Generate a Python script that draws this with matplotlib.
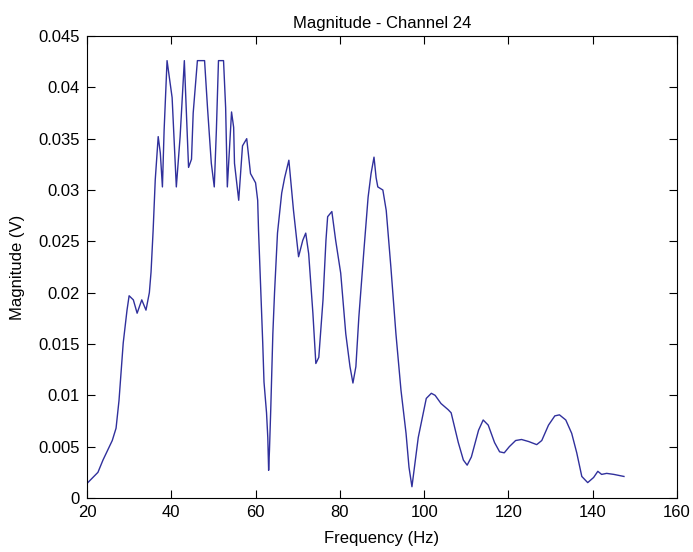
import matplotlib
matplotlib.use("Agg")
import matplotlib.pyplot as plt
import numpy as np

# frequency (Hz) and magnitude (V)
freq = [20.0, 20.2, 22.6, 23.8, 26.0, 26.9, 27.6, 28.6, 29.5, 30.0, 31.0, 31.9,
        33.0, 34.0, 34.8, 35.2, 35.7, 36.2, 36.9, 37.4, 37.9, 38.3, 39.0, 39.3,
        40.2, 41.2, 42.1, 43.1, 43.6, 44.1, 44.8, 45.2, 46.2, 47.9, 48.6, 49.5,
        50.2, 50.7, 51.2, 52.4, 52.9, 53.3, 54.3, 54.8, 55.0, 56.0, 56.9, 57.9,
        58.8, 60.0, 60.5, 60.7, 61.7, 62.0, 62.6, 62.9, 63.1, 63.3, 63.6, 64.1,
        64.5, 65.2, 66.2, 66.9, 67.9, 69.0, 70.2, 71.2, 71.9, 72.6, 73.6, 74.3,
        75.0, 76.0, 76.7, 77.1, 78.1, 79.0, 80.2, 81.4, 82.4, 83.1, 83.8, 84.5,
        85.7, 86.7, 87.4, 88.1, 88.6, 89.0, 90.2, 91.0, 92.1, 93.3, 94.5, 95.7,
        96.4, 97.1, 97.6, 98.6, 99.8, 100.5, 101.7, 102.6, 104.0, 105.7, 106.4,
        108.1, 109.3, 110.2, 111.2, 112.9, 114.0, 115.2, 116.7, 117.9, 119.0,
        120.2, 121.7, 123.1, 124.8, 126.7, 127.9, 129.5, 131.0, 132.1, 133.6,
        135.0, 136.2, 137.4, 138.8, 140.2, 141.2, 142.1, 143.3, 145.0, 147.4]
mag = [0.0014, 0.0015, 0.0025, 0.0037, 0.0056, 0.0068, 0.0095, 0.0151, 0.0183,
       0.0197, 0.0193, 0.0180, 0.0193, 0.0183, 0.0200, 0.0220, 0.0261, 0.0310,
       0.0352, 0.0336, 0.0303, 0.0358, 0.0426, 0.0417, 0.0390, 0.0303, 0.0352,
       0.0426, 0.0375, 0.0322, 0.0330, 0.0375, 0.0426, 0.0426, 0.0380, 0.0326,
       0.0303, 0.0358, 0.0426, 0.0426, 0.0380, 0.0303, 0.0376, 0.0361, 0.0326,
       0.0290, 0.0343, 0.0350, 0.0316, 0.0307, 0.0290, 0.0261, 0.0151, 0.0113,
       0.0083, 0.0059, 0.0027, 0.0047, 0.0086, 0.0160, 0.0200, 0.0258, 0.0297,
       0.0312, 0.0329, 0.0280, 0.0235, 0.0251, 0.0258, 0.0238, 0.0180, 0.0131,
       0.0137, 0.0193, 0.0251, 0.0274, 0.0279, 0.0251, 0.0219, 0.0160, 0.0128,
       0.0112, 0.0128, 0.0176, 0.0241, 0.0293, 0.0316, 0.0332, 0.0312, 0.0303,
       0.0300, 0.0280, 0.0225, 0.0160, 0.0105, 0.0063, 0.0030, 0.0011, 0.0027,
       0.0059, 0.0083, 0.0097, 0.0102, 0.0100, 0.0092, 0.0086, 0.0083, 0.0054,
       0.0037, 0.0032, 0.0040, 0.0066, 0.0076, 0.0071, 0.0054, 0.0045, 0.0044,
       0.0050, 0.0056, 0.0057, 0.0055, 0.0052, 0.0056, 0.0071, 0.0080, 0.0081,
       0.0076, 0.0063, 0.0044, 0.0021, 0.0015, 0.0020, 0.0026, 0.0023, 0.0024,
       0.0023, 0.0021]

xticks = [20, 40, 60, 80, 100, 120, 140, 160]
yticks = [0, 0.005, 0.01, 0.015, 0.02, 0.025, 0.03, 0.035, 0.04, 0.045]
ytick_labels = ['0', '0.005', '0.01', '0.015', '0.02', '0.025', '0.03', '0.035', '0.04', '0.045']

plt.rcParams['font.family'] = ['Liberation Sans', 'DejaVu Sans']

fig = plt.figure(figsize=(6.93, 5.52), dpi=100)
ax = fig.add_axes([0.1255, 0.0978, 0.8515, 0.837])

ax.plot(freq, mag, color='#30309c', linewidth=1.0)

ax.set_xlim(20, 160)
ax.set_ylim(0, 0.045)
ax.set_xticks(xticks)
ax.set_yticks(yticks)
ax.set_yticklabels(ytick_labels)
ax.tick_params(direction='in', top=True, right=True, labelsize=12, length=6, pad=5)
for s in ax.spines.values():
    s.set_linewidth(0.8)

ax.set_title('Magnitude - Channel 24', fontsize=12, pad=6)
ax.set_xlabel('Frequency (Hz)', fontsize=12, labelpad=8)
ax.set_ylabel('Magnitude (V)', fontsize=12, labelpad=10)

fig.savefig('out.png', dpi=100)
